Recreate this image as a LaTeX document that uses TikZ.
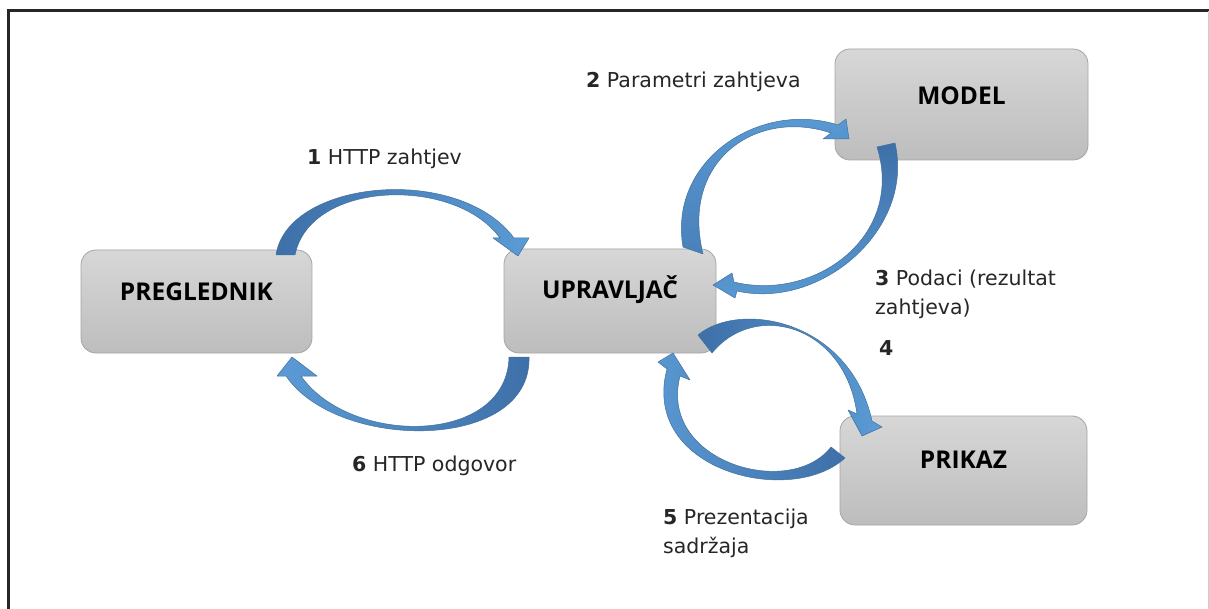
\documentclass[tikz,border=0pt]{standalone}
\usepackage{fontspec}
\setmainfont{DejaVu Sans}
\newfontfamily\boxfont{Open Sans}
\definecolor{arrdark}{HTML}{3E6FA8}
\definecolor{arrlight}{HTML}{5B9BD5}
\definecolor{arredge}{HTML}{41719C}
\definecolor{boxtop}{HTML}{D7D7D7}
\definecolor{boxbot}{HTML}{BDBDBD}
\definecolor{boxedge}{HTML}{A5A5A5}
\begin{document}
\begin{tikzpicture}[x=1pt,y=-1pt,
  box/.style={draw=boxedge, line width=0.8pt, rounded corners=15pt, top color=boxtop, bottom color=boxbot, inner sep=0pt},
  boxlabel/.style={font=\boxfont\bfseries\fontsize{24.5}{28}\selectfont, text=black, inner sep=0pt},
  lbl/.style={font=\fontsize{20.5}{29}\selectfont, align=left, inner sep=0pt, anchor=base west, text=black!85},
  arr/.style={draw=arredge, line width=0.5pt, line join=round}]
\useasboundingbox (0,0) rectangle (1209,609);
\fill[white] (0,0) rectangle (1209,609);
% frame
\draw[black!85, line width=2.5pt] (8.5,609) -- (8.5,10.5) -- (1209,10.5);
\draw[black!20, line width=1pt] (1208,11) -- (1208,609);
% boxes
\node[box, minimum width=231pt, minimum height=103pt] (pre) at (196.5,301.5) {};
\node[box, minimum width=212pt, minimum height=104pt] (upr) at (610,301) {};
\node[box, minimum width=253pt, minimum height=111pt] (mod) at (961.5,104.5) {};
\node[box, minimum width=247pt, minimum height=109pt] (pri) at (963.5,470.5) {};
\node[boxlabel] (preL) at ([yshift=10pt]pre.center) {PREGLEDNIK};
\node[boxlabel] (uprL) at ([yshift=11pt]upr.center) {UPRAVLJAČ};
\node[boxlabel] (modL) at ([yshift=9pt]mod.center) {MODEL};
\node[boxlabel] (priL) at ([yshift=11pt]pri.center) {PRIKAZ};
% arrows
% 1 PREGLEDNIK -> UPRAVLJAC
\path[arr, left color=arrdark, right color=arrlight]
  (276,255) .. controls (287,180) and (458,163) .. (514,238)
  -- (529,238) -- (518,256) -- (493,238) -- (500,238)
  .. controls (455,176) and (310,180) .. (295,255) -- cycle;
% 6 UPRAVLJAC -> PREGLEDNIK
\path[arr, left color=arrlight, right color=arrdark]
  (529,357) .. controls (532,452) and (338,452) .. (286,376)
  -- (277,376) -- (292,357) -- (317,376) -- (301,376)
  .. controls (350,446) and (507,446) .. (509,357) -- cycle;
% 2 UPRAVLJAC -> MODEL
\path[arr, bottom color=arrdark!60!arrlight, top color=arrlight]
  (683,247) .. controls (668,160) and (760,100) .. (838,125)
  -- (846,119) -- (849,139) -- (823,139) -- (831,133)
  .. controls (757,108) and (680,160) .. (703,254) -- cycle;
% 3 MODEL -> UPRAVLJAC
\path[arr, top color=arrdark, bottom color=arrlight]
  (895,143) .. controls (915,230) and (820,310) .. (737,291)
  -- (735,298) -- (713,285) -- (732,273) -- (734,282)
  .. controls (815,302) and (905,236) .. (877,147) -- cycle;
% 4 UPRAVLJAC -> PRIKAZ
\path[arr, left color=arrdark, right color=arrlight]
  (698,335) .. controls (740,300) and (850,320) .. (872,421)
  -- (882,427) -- (862,436) -- (848,410) -- (857,414)
  .. controls (845,325) and (755,300) .. (712,353) -- cycle;
% 5 PRIKAZ -> UPRAVLJAC
\path[arr, left color=arrlight, right color=arrdark]
  (845,458) .. controls (790,508) and (640,470) .. (667,369)
  -- (658,362) -- (673,353) -- (690,380) -- (680,376)
  .. controls (658,462) and (790,500) .. (831,447) -- cycle;
% labels
\node[lbl] (l1) at (307,165) {\textbf{1} HTTP zahtjev};
\node[lbl] (l2) at (586,88) {\textbf{2} Parametri zahtjeva};
\node[lbl] (l3) at (875,315) {\textbf{3} Podaci (rezultat\\zahtjeva)};
\node[lbl] (l4) at (879,355) {\textbf{4}};
\node[lbl] (l5) at (663,553) {\textbf{5} Prezentacija\\sadržaja};
\node[lbl] (l6) at (352,471) {\textbf{6} HTTP odgovor};
\end{tikzpicture}
\end{document}
